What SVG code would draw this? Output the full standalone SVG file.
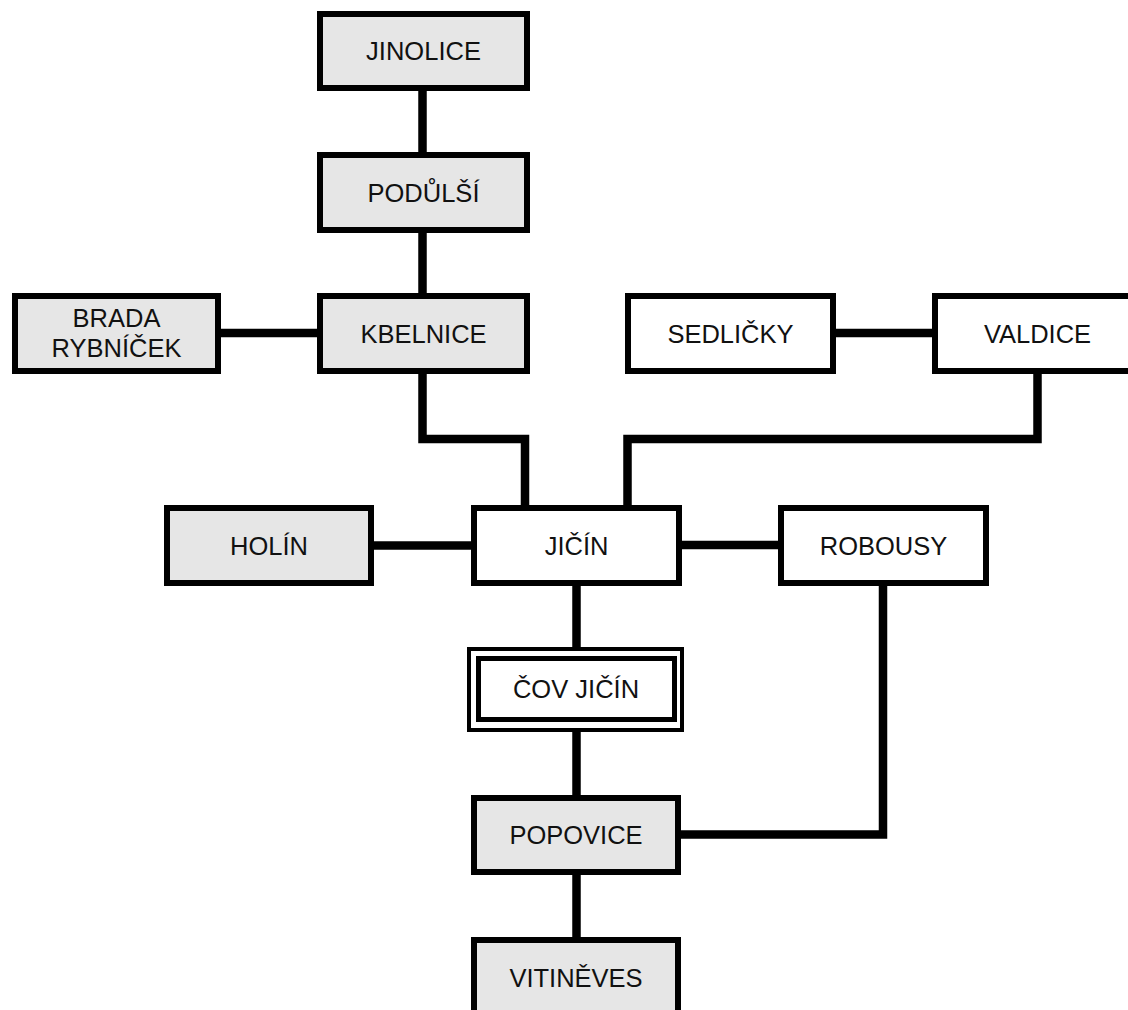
<svg xmlns="http://www.w3.org/2000/svg" width="1128" height="1010" viewBox="0 0 1128 1010">
  <style>
    .box { stroke: #000; stroke-width: 6; }
    .grey { fill: #e6e6e6; }
    .white { fill: #fff; }
    .lbl { font-family: "Liberation Sans", Arial, sans-serif; font-size: 25.5px; fill: #111; text-anchor: middle; }
    .wire { fill: none; stroke: #000; stroke-width: 8.5; stroke-linejoin: miter; }
  </style>
  <rect width="1128" height="1010" fill="#fff"/>

  <!-- connectors -->
  <g id="connectors">
    <line class="wire" x1="422.5" y1="88" x2="422.5" y2="155"/>
    <line class="wire" x1="422.5" y1="230" x2="422.5" y2="296"/>
    <line class="wire" x1="218" y1="333" x2="320" y2="333"/>
    <line class="wire" x1="833" y1="333" x2="935" y2="333"/>
    <path class="wire" d="M422.5 371 V439 H525 V508"/>
    <path class="wire" d="M1037.5 371 V439 H627.5 V508"/>
    <line class="wire" x1="371" y1="545.5" x2="474" y2="545.5"/>
    <line class="wire" x1="679" y1="545" x2="781" y2="545"/>
    <line class="wire" x1="576.5" y1="583" x2="576.5" y2="650"/>
    <line class="wire" x1="576.5" y1="729" x2="576.5" y2="798"/>
    <line class="wire" x1="576.5" y1="872" x2="576.5" y2="940"/>
    <path class="wire" d="M883 583 V834.5 H678"/>
  </g>

  <!-- nodes -->
  <g id="jinolice">
    <rect class="box grey" x="320" y="14" width="207" height="74"/>
    <text class="lbl" x="423.5" y="60">JINOLICE</text>
  </g>
  <g id="podulsi">
    <rect class="box grey" x="320" y="155" width="207" height="75"/>
    <text class="lbl" x="423.5" y="202">PODŮLŠÍ</text>
  </g>
  <g id="kbelnice">
    <rect class="box grey" x="320" y="296" width="207" height="75"/>
    <text class="lbl" x="423.5" y="343">KBELNICE</text>
  </g>
  <g id="brada-rybnicek">
    <rect class="box grey" x="15" y="296" width="203" height="75"/>
    <text class="lbl" x="116.5" y="327">BRADA</text>
    <text class="lbl" x="116.5" y="357">RYBNÍČEK</text>
  </g>
  <g id="sedlicky">
    <rect class="box white" x="628" y="296" width="205" height="75"/>
    <text class="lbl" x="730.5" y="343">SEDLIČKY</text>
  </g>
  <g id="valdice">
    <rect class="box white" x="935" y="296" width="205" height="75"/>
    <text class="lbl" x="1037.5" y="343">VALDICE</text>
  </g>
  <g id="holin">
    <rect class="box grey" x="167" y="508" width="204" height="75"/>
    <text class="lbl" x="269" y="555">HOLÍN</text>
  </g>
  <g id="jicin">
    <rect class="box white" x="474" y="508" width="205" height="75"/>
    <text class="lbl" x="576.5" y="555">JIČÍN</text>
  </g>
  <g id="robousy">
    <rect class="box white" x="781" y="508" width="205" height="75"/>
    <text class="lbl" x="883.5" y="555">ROBOUSY</text>
  </g>
  <g id="cov-jicin">
    <rect class="white" x="467" y="647" width="217" height="85"/>
    <rect x="469" y="649" width="213" height="81" fill="none" stroke="#000" stroke-width="4"/>
    <rect x="478.5" y="658.5" width="196" height="61" fill="none" stroke="#000" stroke-width="5"/>
    <text class="lbl" x="576" y="698">ČOV JIČÍN</text>
  </g>
  <g id="popovice">
    <rect class="box grey" x="474" y="798" width="204" height="74"/>
    <text class="lbl" x="576" y="844">POPOVICE</text>
  </g>
  <g id="vitineves">
    <rect class="box grey" x="474" y="940" width="204" height="75"/>
    <text class="lbl" x="576" y="987">VITINĚVES</text>
  </g>
</svg>
